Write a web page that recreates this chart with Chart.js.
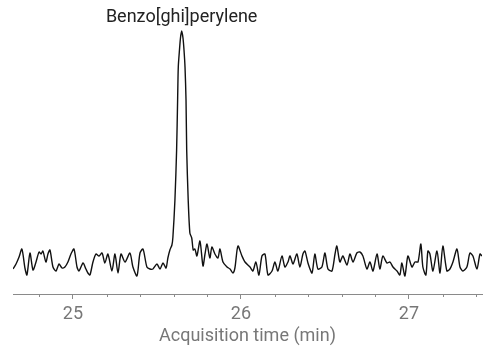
<!DOCTYPE html>
<html>
<head>
<meta charset="utf-8">
<script src="https://cdn.jsdelivr.net/npm/chart.js@4"></script>
<style>
  html, body { margin: 0; padding: 0; background: #fff; }
  #wrap { width: 494px; height: 349px; }
</style>
</head>
<body>
<div id="wrap"><canvas id="myChart"></canvas></div>
<script>
// acquisition time (min)
const times = [
  24.643, 24.661, 24.679, 24.696, 24.714, 24.726, 24.744, 24.762, 24.780, 24.798,
  24.810, 24.821, 24.839, 24.851, 24.863, 24.881, 24.899, 24.917, 24.935, 24.952,
  24.970, 24.988, 25.006, 25.024, 25.036, 25.060, 25.077, 25.089, 25.101, 25.119,
  25.137, 25.155, 25.173, 25.190, 25.208, 25.232, 25.250, 25.268, 25.286, 25.310,
  25.339, 25.357, 25.381, 25.399, 25.417, 25.440, 25.458, 25.476, 25.500, 25.518,
  25.536, 25.554, 25.565, 25.577, 25.589, 25.595, 25.607, 25.617, 25.623, 25.627,
  25.634, 25.640, 25.647, 25.655, 25.661, 25.667, 25.673, 25.677, 25.686, 25.696,
  25.707, 25.716, 25.726, 25.738, 25.756, 25.774, 25.786, 25.798, 25.815, 25.827,
  25.845, 25.863, 25.875, 25.893, 25.917, 25.935, 25.952, 25.964, 25.982, 26.006,
  26.024, 26.054, 26.071, 26.089, 26.107, 26.125, 26.143, 26.161, 26.185, 26.202,
  26.220, 26.244, 26.262, 26.280, 26.292, 26.310, 26.333, 26.351, 26.369, 26.381,
  26.399, 26.423, 26.440, 26.458, 26.482, 26.500, 26.518, 26.542, 26.560, 26.571,
  26.589, 26.607, 26.631, 26.649, 26.667, 26.690, 26.708, 26.726, 26.750, 26.768,
  26.786, 26.810, 26.827, 26.845, 26.869, 26.887, 26.905, 26.929, 26.946, 26.958,
  26.976, 26.994, 27.018, 27.036, 27.054, 27.071, 27.083, 27.101, 27.113, 27.125,
  27.143, 27.167, 27.185, 27.202, 27.226, 27.244, 27.262, 27.286, 27.304, 27.321,
  27.345, 27.363, 27.381, 27.405, 27.423, 27.435
];

// detector response (arbitrary units)
const response = [
  25, 30, 37, 45, 26, 19, 41, 24, 32, 42,
  40, 43, 32, 40, 44, 27, 23, 30, 26, 27,
  32, 40, 45, 27, 23, 31, 25, 21, 19, 32,
  40, 38, 41, 31, 40, 23, 40, 21, 40, 32,
  41, 27, 18, 41, 45, 27, 25, 25, 30, 25,
  31, 26, 36, 44, 49, 57, 94, 144, 194, 227,
  244, 256, 263, 256, 244, 227, 194, 144, 94, 61,
  56, 44, 45, 38, 53, 28, 40, 50, 36, 47,
  40, 36, 45, 32, 27, 25, 21, 26, 48, 38,
  32, 27, 23, 32, 19, 38, 40, 19, 23, 32,
  23, 38, 27, 32, 38, 30, 40, 27, 40, 43,
  31, 21, 40, 25, 27, 41, 25, 23, 40, 48,
  32, 38, 29, 40, 32, 41, 42, 38, 25, 32,
  23, 40, 25, 38, 31, 32, 27, 23, 19, 31,
  18, 38, 27, 32, 32, 50, 27, 19, 43, 40,
  23, 43, 21, 48, 23, 25, 32, 45, 27, 23,
  27, 41, 38, 25, 40, 38
];

const tickValues = [24.8, 25, 25.2, 25.4, 25.6, 25.8, 26, 26.2, 26.4, 26.6, 26.8, 27, 27.2, 27.4];
const majorTicks = [25, 26, 27];

const peakLabel = "Benzo[ghi]perylene";
const peakTime = 25.647;
const peakValue = 263;

const isMajor = (v) => majorTicks.some((m) => Math.abs(m - v) < 1e-6);

// short minor ticks under the axis
const minorTicks = {
  id: "minorTicks",
  afterDraw(chart) {
    const x = chart.scales.x;
    const ctx = chart.ctx;
    ctx.save();
    ctx.strokeStyle = "#8a8a8a";
    ctx.lineWidth = 1;
    tickValues.forEach((v) => {
      if (isMajor(v)) return;
      const px = Math.round(x.getPixelForValue(v)) + 0.5;
      ctx.beginPath();
      ctx.moveTo(px, x.top);
      ctx.lineTo(px, x.top + 3);
      ctx.stroke();
    });
    ctx.restore();
  },
};

// compound name above the peak
const peakName = {
  id: "peakName",
  afterDatasetsDraw(chart) {
    const ctx = chart.ctx;
    const px = chart.scales.x.getPixelForValue(peakTime);
    const py = chart.scales.y.getPixelForValue(peakValue);
    ctx.save();
    ctx.font = "18px Roboto";
    ctx.fillStyle = "#222";
    ctx.textAlign = "center";
    ctx.textBaseline = "alphabetic";
    ctx.fillText(peakLabel, px, py - 9);
    ctx.restore();
  },
};

const data = {
  labels: times,
  datasets: [
    {
      data: times.map((t, i) => ({ x: t, y: response[i] })),
      borderColor: "#111",
      borderWidth: 1.4,
      pointRadius: 0,
      tension: 0.25,
      fill: false,
    },
  ],
};

const config = {
  type: "line",
  data: data,
  options: {
    responsive: true,
    maintainAspectRatio: false,
    animation: false,
    layout: {
      padding: { left: 13, right: 12, top: 24, bottom: 0 },
    },
    scales: {
      x: {
        type: "linear",
        min: 24.643,
        max: 27.435,
        afterBuildTicks: (s) => {
          s.ticks = tickValues.map((v) => ({ value: v }));
        },
        afterFit: (s) => {
          s.height = 55;
        },
        border: { display: true, color: "#8a8a8a", width: 1 },
        grid: {
          display: true,
          drawOnChartArea: false,
          drawTicks: true,
          tickLength: 5,
          tickColor: (c) => (isMajor(c.tick.value) ? "#8a8a8a" : "rgba(0,0,0,0)"),
        },
        ticks: {
          autoSkip: false,
          maxRotation: 0,
          padding: 5,
          color: "#777",
          font: { family: "Roboto", size: 18 },
          callback: (v) => (isMajor(v) ? String(Math.round(v)) : ""),
        },
        title: {
          display: true,
          text: "Acquisition time (min)",
          color: "#777",
          font: { family: "Roboto", size: 18 },
          padding: { top: 0, bottom: 2 },
        },
      },
      y: {
        display: false,
        min: 0,
        max: 270,
      },
    },
    plugins: {
      legend: { display: false },
      tooltip: { enabled: false },
    },
  },
  plugins: [minorTicks, peakName],
};

const myChart = new Chart(document.getElementById("myChart").getContext("2d"), config);
</script>
</body>
</html>
